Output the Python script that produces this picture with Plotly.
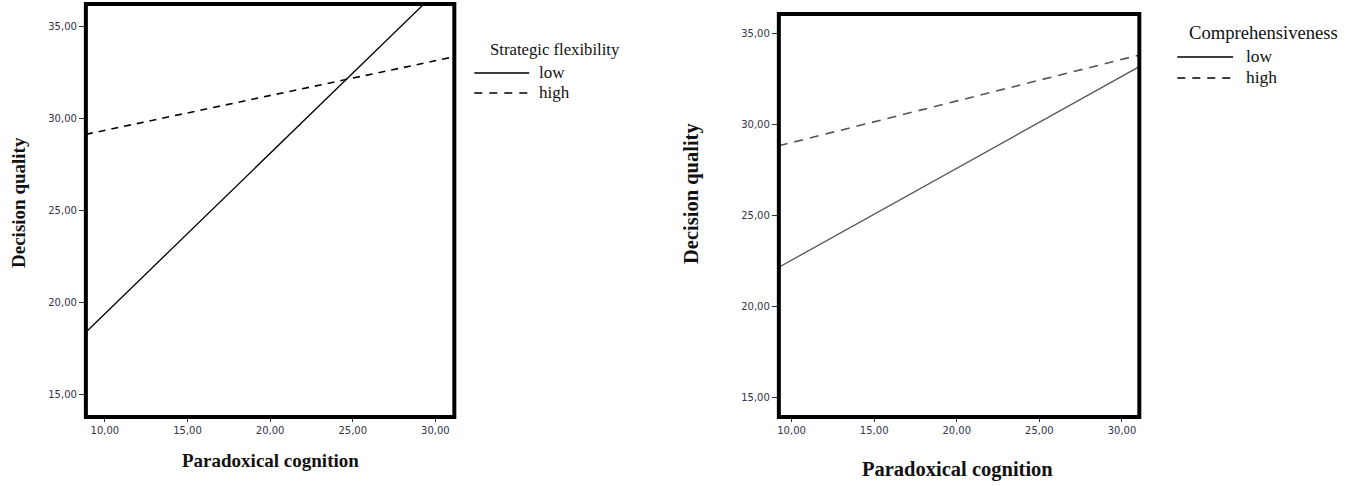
import plotly.graph_objects as go

W, H = 1356, 486

# ---- data ----
x_vals = [8.85, 31.15]
left_low = [18.40, 37.80]
left_high = [29.13, 33.34]
x_vals_r = [9.23, 31.05]
right_low = [22.15, 33.20]
right_high = [28.84, 33.84]

x_ticks = [10, 15, 20, 25, 30]
x_tick_labels = ["10,00", "15,00", "20,00", "25,00", "30,00"]
y_ticks = [15, 20, 25, 30, 35]
y_tick_labels = ["15,00", "20,00", "25,00", "30,00", "35,00"]

left_legend_title = "Strategic flexibility"
right_legend_title = "Comprehensiveness"
group_labels = ["low", "high"]
x_title = "Paradoxical cognition"
y_title = "Decision quality"

def px(x):
    return x / W

def py(y):
    return 1 - y / H

fig = go.Figure()

fig.add_trace(go.Scatter(x=x_vals, y=left_low, mode="lines", name="low",
                         line=dict(color="black", width=1.3), xaxis="x", yaxis="y", showlegend=False))
fig.add_trace(go.Scatter(x=x_vals, y=left_high, mode="lines", name="high",
                         line=dict(color="black", width=1.6, dash="7px,6px"), xaxis="x", yaxis="y", showlegend=False))
fig.add_trace(go.Scatter(x=x_vals_r, y=right_low, mode="lines", name="low",
                         line=dict(color="#555555", width=1.3), xaxis="x2", yaxis="y2", showlegend=False))
fig.add_trace(go.Scatter(x=x_vals_r, y=right_high, mode="lines", name="high",
                         line=dict(color="#555555", width=1.6, dash="9px,7px"), xaxis="x2", yaxis="y2", showlegend=False))

tickfont = dict(family="DejaVu Sans", size=10, color="#33334a")
common_x = dict(tickvals=x_ticks, ticktext=x_tick_labels, ticks="outside", ticklen=4,
                tickcolor="#333", tickfont=tickfont, showgrid=False, zeroline=False,
                showline=False, fixedrange=True)
common_y = dict(tickvals=y_ticks, ticktext=y_tick_labels, ticks="outside", ticklen=6,
                tickcolor="#333", tickfont=tickfont, showgrid=False, zeroline=False,
                showline=False, fixedrange=True)

fig.update_layout(
    width=W, height=H,
    margin=dict(l=0, r=0, t=0, b=0),
    paper_bgcolor="white", plot_bgcolor="white",
    xaxis=dict(domain=[px(84), px(453)], range=[8.85, 31.15], anchor="y", **common_x),
    yaxis=dict(domain=[py(417), py(4)], range=[13.8, 36.2], anchor="x", **common_y),
    xaxis2=dict(domain=[px(778), px(1139)], range=[9.23, 31.05], anchor="y2", **common_x),
    yaxis2=dict(domain=[py(417), py(14)], range=[13.9, 36.1], anchor="x2", **common_y),
)

# frames
for xr, yr, lw in [("x domain", "y domain", 4), ("x2 domain", "y2 domain", 4)]:
    fig.add_shape(type="rect", xref=xr, yref=yr, x0=0, x1=1, y0=0, y1=1,
                  line=dict(color="black", width=lw), layer="above")

serif = "Liberation Serif"
ink = "#111"
ann = []
# axis titles
ann.append(dict(x=px(269), y=py(460), text="<b>%s</b>" % x_title, font=dict(family=serif, size=19, color=ink)))
ann.append(dict(x=px(957), y=py(469), text="<b>%s</b>" % x_title, font=dict(family=serif, size=20.5, color=ink)))
ann.append(dict(x=px(16), y=py(202), text="<b>%s</b>" % y_title, textangle=-90, font=dict(family=serif, size=19, color=ink)))
ann.append(dict(x=px(690), y=py(193), text="<b>%s</b>" % y_title, textangle=-90, font=dict(family=serif, size=20.5, color=ink)))

# legends
ann.append(dict(x=px(487), y=py(50), text=left_legend_title, xanchor="left", font=dict(family=serif, size=16.7, color=ink)))
ann.append(dict(x=px(536), y=py(72), text=group_labels[0], xanchor="left", font=dict(family=serif, size=17, color=ink)))
ann.append(dict(x=px(536), y=py(92), text=group_labels[1], xanchor="left", font=dict(family=serif, size=17, color=ink)))
ann.append(dict(x=px(1187), y=py(32), text=right_legend_title, xanchor="left", font=dict(family=serif, size=18.6, color=ink)))
ann.append(dict(x=px(1244), y=py(56), text=group_labels[0], xanchor="left", font=dict(family=serif, size=17.5, color=ink)))
ann.append(dict(x=px(1244), y=py(77), text=group_labels[1], xanchor="left", font=dict(family=serif, size=17.5, color=ink)))
for a in ann:
    a.update(xref="paper", yref="paper", showarrow=False)
    a.setdefault("xanchor", "center")
    a.setdefault("yanchor", "middle")
fig.update_layout(annotations=ann)

# legend samples
for x0, x1, yy in [(473, 528, 73), (1177, 1233, 57)]:
    fig.add_shape(type="line", xref="paper", yref="paper", x0=px(x0), x1=px(x1), y0=py(yy), y1=py(yy),
                  line=dict(color="black", width=1.5))
for x0, x1, yy in [(473, 528, 93), (1177, 1233, 78)]:
    fig.add_shape(type="line", xref="paper", yref="paper", x0=px(x0), x1=px(x1), y0=py(yy), y1=py(yy),
                  line=dict(color="black", width=1.5, dash="8px,7px"))

fig.write_html("out.html", config={"displayModeBar": False, "staticPlot": True},
               post_script="document.body.style.margin='0';document.body.style.overflow='hidden';")
